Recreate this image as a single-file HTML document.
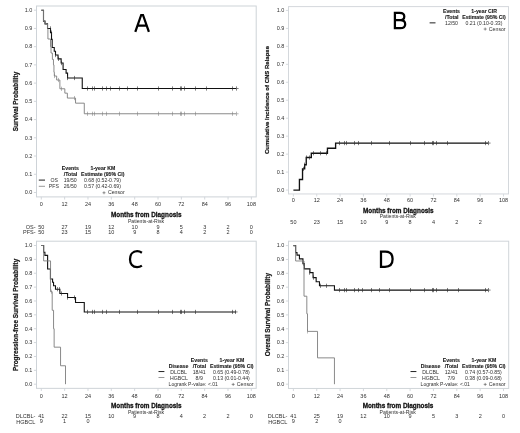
<!DOCTYPE html>
<html><head><meta charset="utf-8"><title>Figure</title>
<style>html,body{margin:0;padding:0;background:#fff}svg{display:block}text{font-family:"Liberation Sans", sans-serif}</style></head>
<body>
<svg width="520" height="433" viewBox="0 0 520 433" font-family='"Liberation Sans", sans-serif'>
<defs><filter id="tb" x="0" y="0" width="520" height="433" filterUnits="userSpaceOnUse"><feGaussianBlur stdDeviation="0.28"/></filter><clipPath id="cc"><rect x="0" y="418.6" width="520" height="14"/></clipPath></defs>
<rect width="520" height="433" fill="#fff"/>
<rect x="36.50" y="6.00" width="219.70" height="190.90" fill="none" stroke="#ced3d8" stroke-width="1"/>
<path d="M33.90 192.50H36.50 M33.90 174.27H36.50 M33.90 156.04H36.50 M33.90 137.81H36.50 M33.90 119.58H36.50 M33.90 101.35H36.50 M33.90 83.12H36.50 M33.90 64.89H36.50 M33.90 46.66H36.50 M33.90 28.43H36.50 M33.90 10.20H36.50 M41.30 196.90V199.50 M64.64 196.90V199.50 M87.99 196.90V199.50 M111.33 196.90V199.50 M134.68 196.90V199.50 M158.02 196.90V199.50 M181.37 196.90V199.50 M204.71 196.90V199.50 M228.06 196.90V199.50 M251.40 196.90V199.50" stroke="#ced3d8" stroke-width="0.9" fill="none"/>
<path d="M41.30 10.20 H43.50 V21.14 H45.00 V23.87 H47.53 V28.43 H50.50 V32.62 H51.51 V39.37 H52.19 V47.57 H54.26 V51.22 H55.50 V55.05 H58.03 V58.87 H61.14 V63.07 H63.09 V69.45 H66.10 V73.09 H67.56 V78.02 H82.25 V88.50 H236.03 V88.50" fill="none" stroke="#111" stroke-width="1.1" stroke-linejoin="miter"/>
<path d="M50.50 26.33V30.53 M51.50 30.52V34.72 M55.50 52.95V57.15 M58.50 56.77V60.97 M61.50 60.97V65.17 M67.50 75.92V80.12 M74.50 75.92V80.12 M87.50 86.40V90.60 M92.50 86.40V90.60 M94.50 86.40V90.60 M102.50 86.40V90.60 M106.50 86.40V90.60 M119.50 86.40V90.60 M137.50 86.40V90.60 M158.50 86.40V90.60 M172.50 86.40V90.60 M180.50 86.40V90.60 M181.50 86.40V90.60 M184.50 86.40V90.60 M195.50 86.40V90.60 M232.50 86.40V90.60 M236.50 86.40V90.60 M110.50 86.40V90.60 M127.50 86.40V90.60 M206.50 86.40V90.60 M236.50 88.50H238.60" fill="none" stroke="#2a2a2a" stroke-width="0.6"/>
<path d="M41.30 10.20 H43.50 V21.14 H45.00 V23.87 H47.53 V28.43 H47.91 V39.00 H50.50 V46.66 H51.03 V53.04 H52.39 V59.42 H53.46 V64.89 H53.94 V72.18 H54.33 V76.01 H56.67 V80.02 H59.88 V88.77 H64.84 V93.15 H67.37 V98.07 H75.54 V103.17 H84.29 V113.75 H236.03 V113.75" fill="none" stroke="#7d7d7d" stroke-width="0.9" stroke-linejoin="miter"/>
<path d="M54.50 73.91V78.11 M58.50 77.92V82.12 M61.50 86.67V90.87 M74.50 95.97V100.17 M87.50 111.65V115.85 M92.50 111.65V115.85 M94.50 111.65V115.85 M102.50 111.65V115.85 M106.50 111.65V115.85 M119.50 111.65V115.85 M137.50 111.65V115.85 M158.50 111.65V115.85 M172.50 111.65V115.85 M180.50 111.65V115.85 M181.50 111.65V115.85 M184.50 111.65V115.85 M195.50 111.65V115.85 M232.50 111.65V115.85 M236.50 111.65V115.85 M236.50 113.75H238.60" fill="none" stroke="#7d7d7d" stroke-width="0.55"/>
<path d="M135.3 31.9L141.2 15.0H143.0L148.9 31.9M137.4 25.6H146.8" fill="none" stroke="#000" stroke-width="2.25" stroke-linejoin="miter"/>
<path d="M38.8 180.1H45" stroke="#333" stroke-width="1.1"/>
<path d="M38.8 186.3H45" stroke="#7d7d7d" stroke-width="0.8"/>
<rect x="288.50" y="6.60" width="220.00" height="187.35" fill="none" stroke="#d4d8dc" stroke-width="1"/>
<path d="M285.90 190.05H288.50 M285.90 172.09H288.50 M285.90 154.13H288.50 M285.90 136.17H288.50 M285.90 118.21H288.50 M285.90 100.25H288.50 M285.90 82.29H288.50 M285.90 64.33H288.50 M285.90 46.37H288.50 M285.90 28.41H288.50 M285.90 10.45H288.50 M293.40 193.95V196.55 M316.74 193.95V196.55 M340.09 193.95V196.55 M363.43 193.95V196.55 M386.78 193.95V196.55 M410.12 193.95V196.55 M433.47 193.95V196.55 M456.81 193.95V196.55 M480.16 193.95V196.55 M503.50 193.95V196.55" stroke="#d4d8dc" stroke-width="0.9" fill="none"/>
<path d="M293.40 190.05 H299.43 V179.45 H302.54 V168.86 H304.68 V164.73 H306.24 V157.54 H311.30 V153.23 H327.44 V148.20 H335.61 V143.08 H488.13 V143.08" fill="none" stroke="#111" stroke-width="1.35" stroke-linejoin="miter"/>
<path d="M303.50 166.76V170.96 M304.50 162.63V166.83 M306.50 155.44V159.64 M309.50 155.44V159.64 M313.50 151.13V155.33 M320.50 151.13V155.33 M326.50 151.13V155.33 M339.50 140.98V145.18 M344.50 140.98V145.18 M346.50 140.98V145.18 M354.50 140.98V145.18 M358.50 140.98V145.18 M371.50 140.98V145.18 M389.50 140.98V145.18 M410.50 140.98V145.18 M424.50 140.98V145.18 M432.50 140.98V145.18 M433.50 140.98V145.18 M436.50 140.98V145.18 M447.50 140.98V145.18 M485.50 140.98V145.18 M488.50 140.98V145.18 M488.50 143.08H490.60" fill="none" stroke="#2a2a2a" stroke-width="0.6"/>
<path d="M394.9 12.9H399.6C402.6 12.9 404.3 14.2 404.3 16.5C404.3 18.8 402.6 20.2 399.6 20.2H394.9H400.2C403.4 20.2 405.2 21.8 405.2 24.2C405.2 26.7 403.4 28.2 400.2 28.2H394.9Z" fill="none" stroke="#000" stroke-width="2.25" stroke-linejoin="miter"/>
<path d="M429.6 22.85H435.5" stroke="#333" stroke-width="1.1"/>
<rect x="36.50" y="241.20" width="219.70" height="147.15" fill="none" stroke="#ced3d8" stroke-width="1"/>
<path d="M33.90 384.20H36.50 M33.90 370.33H36.50 M33.90 356.46H36.50 M33.90 342.59H36.50 M33.90 328.72H36.50 M33.90 314.85H36.50 M33.90 300.98H36.50 M33.90 287.11H36.50 M33.90 273.24H36.50 M33.90 259.37H36.50 M33.90 245.50H36.50 M41.30 388.35V390.95 M64.63 388.35V390.95 M87.97 388.35V390.95 M111.30 388.35V390.95 M134.63 388.35V390.95 M157.97 388.35V390.95 M181.30 388.35V390.95 M204.63 388.35V390.95 M227.97 388.35V390.95 M251.30 388.35V390.95" stroke="#ced3d8" stroke-width="0.9" fill="none"/>
<path d="M41.30 245.50 H43.63 V252.30 H44.90 V255.35 H47.62 V268.94 H50.44 V278.93 H52.58 V282.26 H53.55 V285.72 H55.49 V289.19 H59.87 V293.49 H67.55 V297.51 H75.52 V302.51 H84.27 V311.94 H235.94 V311.94" fill="none" stroke="#111" stroke-width="1.1" stroke-linejoin="miter"/>
<path d="M57.50 287.09V291.29 M59.50 287.09V291.29 M61.50 291.39V295.59 M67.50 295.41V299.61 M74.50 295.41V299.61 M87.50 309.84V314.04 M92.50 309.84V314.04 M94.50 309.84V314.04 M102.50 309.84V314.04 M106.50 309.84V314.04 M119.50 309.84V314.04 M137.50 309.84V314.04 M158.50 309.84V314.04 M172.50 309.84V314.04 M180.50 309.84V314.04 M181.50 309.84V314.04 M184.50 309.84V314.04 M195.50 309.84V314.04 M232.50 309.84V314.04 M235.50 309.84V314.04 M235.50 311.94H237.60" fill="none" stroke="#2a2a2a" stroke-width="0.6"/>
<path d="M41.30 245.50 H43.63 V260.90 H50.54 V291.69 H52.19 V310.27 H53.55 V328.72 H54.13 V347.17 H60.55 V365.75 H65.51 V384.20" fill="none" stroke="#7d7d7d" stroke-width="0.9" stroke-linejoin="miter"/>
<path d="M51.50 289.59V293.79" fill="none" stroke="#7d7d7d" stroke-width="0.5"/>
<path d="M141.9 252.7C140.4 251.7 138.8 251.2 137.2 251.2C132.7 251.2 130.0 254.6 130.0 259.3C130.0 264.0 132.6 267.1 137.1 267.1C138.9 267.1 140.5 266.6 141.9 265.6" fill="none" stroke="#000" stroke-width="2.25"/>
<path d="M158.50 371.55H164.40" stroke="#222" stroke-width="1.0"/>
<path d="M158.50 377.5H164.40" stroke="#7d7d7d" stroke-width="0.8"/>
<rect x="288.50" y="241.20" width="220.20" height="147.25" fill="none" stroke="#d0d5d9" stroke-width="1"/>
<path d="M285.90 384.20H288.50 M285.90 370.34H288.50 M285.90 356.48H288.50 M285.90 342.62H288.50 M285.90 328.76H288.50 M285.90 314.90H288.50 M285.90 301.04H288.50 M285.90 287.18H288.50 M285.90 273.32H288.50 M285.90 259.46H288.50 M285.90 245.60H288.50 M293.40 388.45V391.05 M316.74 388.45V391.05 M340.09 388.45V391.05 M363.43 388.45V391.05 M386.78 388.45V391.05 M410.12 388.45V391.05 M433.47 388.45V391.05 M456.81 388.45V391.05 M480.16 388.45V391.05 M503.50 388.45V391.05" stroke="#d0d5d9" stroke-width="0.9" fill="none"/>
<path d="M293.40 245.60 H295.64 V252.67 H297.00 V255.16 H299.43 V258.91 H302.93 V263.62 H304.29 V268.88 H309.94 V272.63 H313.05 V277.62 H316.16 V281.77 H319.47 V285.79 H334.45 V290.09 H488.13 V290.09" fill="none" stroke="#111" stroke-width="1.1" stroke-linejoin="miter"/>
<path d="M303.50 261.52V265.72 M309.50 270.53V274.73 M313.50 275.52V279.72 M320.50 283.69V287.89 M326.50 283.69V287.89 M339.50 287.99V292.19 M344.50 287.99V292.19 M346.50 287.99V292.19 M354.50 287.99V292.19 M358.50 287.99V292.19 M371.50 287.99V292.19 M389.50 287.99V292.19 M410.50 287.99V292.19 M424.50 287.99V292.19 M432.50 287.99V292.19 M433.50 287.99V292.19 M436.50 287.99V292.19 M447.50 287.99V292.19 M485.50 287.99V292.19 M488.50 287.99V292.19 M362.50 287.99V292.19 M379.50 287.99V292.19 M458.50 287.99V292.19 M488.50 290.09H490.60" fill="none" stroke="#2a2a2a" stroke-width="0.6"/>
<path d="M293.40 245.60 H295.64 V260.98 H304.00 V296.19 H306.82 V313.79 H307.50 V331.39 H317.52 V357.87 H334.45 V384.20" fill="none" stroke="#7d7d7d" stroke-width="0.9" stroke-linejoin="miter"/>
<path d="M303.50 258.88V263.08 M307.50 329.29V333.49" fill="none" stroke="#7d7d7d" stroke-width="0.5"/>
<path d="M381.0 251.6H385.2C390.3 251.6 392.6 254.7 392.6 259.1C392.6 263.8 390.2 266.9 385.0 266.9H381.0Z" fill="none" stroke="#000" stroke-width="2.25" stroke-linejoin="miter"/>
<path d="M410.50 371.55H416.40" stroke="#222" stroke-width="1.0"/>
<path d="M410.50 377.5H416.40" stroke="#7d7d7d" stroke-width="0.8"/>
<g filter="url(#tb)">
<text x="32.30" y="194.30" font-size="5.5" text-anchor="end" font-weight="normal" fill="#303030" >0.0</text>
<text x="32.30" y="176.07" font-size="5.5" text-anchor="end" font-weight="normal" fill="#303030" >0.1</text>
<text x="32.30" y="157.84" font-size="5.5" text-anchor="end" font-weight="normal" fill="#303030" >0.2</text>
<text x="32.30" y="139.61" font-size="5.5" text-anchor="end" font-weight="normal" fill="#303030" >0.3</text>
<text x="32.30" y="121.38" font-size="5.5" text-anchor="end" font-weight="normal" fill="#303030" >0.4</text>
<text x="32.30" y="103.15" font-size="5.5" text-anchor="end" font-weight="normal" fill="#303030" >0.5</text>
<text x="32.30" y="84.92" font-size="5.5" text-anchor="end" font-weight="normal" fill="#303030" >0.6</text>
<text x="32.30" y="66.69" font-size="5.5" text-anchor="end" font-weight="normal" fill="#303030" >0.7</text>
<text x="32.30" y="48.46" font-size="5.5" text-anchor="end" font-weight="normal" fill="#303030" >0.8</text>
<text x="32.30" y="30.23" font-size="5.5" text-anchor="end" font-weight="normal" fill="#303030" >0.9</text>
<text x="32.30" y="12.00" font-size="5.5" text-anchor="end" font-weight="normal" fill="#303030" >1.0</text>
<text x="41.30" y="206.20" font-size="5.5" text-anchor="middle" font-weight="normal" fill="#303030" >0</text>
<text x="64.64" y="206.20" font-size="5.5" text-anchor="middle" font-weight="normal" fill="#303030" >12</text>
<text x="87.99" y="206.20" font-size="5.5" text-anchor="middle" font-weight="normal" fill="#303030" >24</text>
<text x="111.33" y="206.20" font-size="5.5" text-anchor="middle" font-weight="normal" fill="#303030" >36</text>
<text x="134.68" y="206.20" font-size="5.5" text-anchor="middle" font-weight="normal" fill="#303030" >48</text>
<text x="158.02" y="206.20" font-size="5.5" text-anchor="middle" font-weight="normal" fill="#303030" >60</text>
<text x="181.37" y="206.20" font-size="5.5" text-anchor="middle" font-weight="normal" fill="#303030" >72</text>
<text x="204.71" y="206.20" font-size="5.5" text-anchor="middle" font-weight="normal" fill="#303030" >84</text>
<text x="228.06" y="206.20" font-size="5.5" text-anchor="middle" font-weight="normal" fill="#303030" >96</text>
<text x="251.40" y="206.20" font-size="5.5" text-anchor="middle" font-weight="normal" fill="#303030" >108</text>
<text transform="translate(18.20 101.50) rotate(-90)" font-size="6.36" text-anchor="middle" font-weight="bold" fill="#151515" stroke="#151515" stroke-width="0.2">Survival Probability</text>
<text x="146.30" y="216.70" font-size="6.36" text-anchor="middle" font-weight="bold" fill="#111" stroke="#111" stroke-width="0.28">Months from Diagnosis</text>
<text x="146.00" y="222.90" font-size="5.13" text-anchor="middle" font-weight="normal" fill="#303030" >Patients-at-Risk</text>
<text x="35.50" y="228.80" font-size="5.5" text-anchor="end" font-weight="normal" fill="#303030" >OS-</text>
<text x="41.30" y="228.80" font-size="5.5" text-anchor="middle" font-weight="normal" fill="#303030" >50</text>
<text x="64.64" y="228.80" font-size="5.5" text-anchor="middle" font-weight="normal" fill="#303030" >27</text>
<text x="87.99" y="228.80" font-size="5.5" text-anchor="middle" font-weight="normal" fill="#303030" >19</text>
<text x="111.33" y="228.80" font-size="5.5" text-anchor="middle" font-weight="normal" fill="#303030" >12</text>
<text x="134.68" y="228.80" font-size="5.5" text-anchor="middle" font-weight="normal" fill="#303030" >10</text>
<text x="158.02" y="228.80" font-size="5.5" text-anchor="middle" font-weight="normal" fill="#303030" >9</text>
<text x="181.37" y="228.80" font-size="5.5" text-anchor="middle" font-weight="normal" fill="#303030" >5</text>
<text x="204.71" y="228.80" font-size="5.5" text-anchor="middle" font-weight="normal" fill="#303030" >3</text>
<text x="228.06" y="228.80" font-size="5.5" text-anchor="middle" font-weight="normal" fill="#303030" >2</text>
<text x="251.40" y="228.80" font-size="5.5" text-anchor="middle" font-weight="normal" fill="#303030" >0</text>
<text x="35.50" y="234.10" font-size="5.5" text-anchor="end" font-weight="normal" fill="#303030" >PFS-</text>
<text x="41.30" y="234.10" font-size="5.5" text-anchor="middle" font-weight="normal" fill="#303030" >50</text>
<text x="64.64" y="234.10" font-size="5.5" text-anchor="middle" font-weight="normal" fill="#303030" >23</text>
<text x="87.99" y="234.10" font-size="5.5" text-anchor="middle" font-weight="normal" fill="#303030" >15</text>
<text x="111.33" y="234.10" font-size="5.5" text-anchor="middle" font-weight="normal" fill="#303030" >10</text>
<text x="134.68" y="234.10" font-size="5.5" text-anchor="middle" font-weight="normal" fill="#303030" >9</text>
<text x="158.02" y="234.10" font-size="5.5" text-anchor="middle" font-weight="normal" fill="#303030" >8</text>
<text x="181.37" y="234.10" font-size="5.5" text-anchor="middle" font-weight="normal" fill="#303030" >4</text>
<text x="204.71" y="234.10" font-size="5.5" text-anchor="middle" font-weight="normal" fill="#303030" >2</text>
<text x="228.06" y="234.10" font-size="5.5" text-anchor="middle" font-weight="normal" fill="#303030" >2</text>
<text x="251.40" y="234.10" font-size="5.5" text-anchor="middle" font-weight="normal" fill="#303030" >0</text>
<text x="70.30" y="169.90" font-size="5.2" text-anchor="middle" font-weight="bold" fill="#1c1c1c" stroke="#1c1c1c" stroke-width="0.12">Events</text>
<text x="70.60" y="176.00" font-size="5.2" text-anchor="middle" font-weight="bold" fill="#1c1c1c" stroke="#1c1c1c" stroke-width="0.12">/Total</text>
<text x="102.90" y="169.90" font-size="5.2" text-anchor="middle" font-weight="bold" fill="#1c1c1c" stroke="#1c1c1c" stroke-width="0.12">1-year KM</text>
<text x="102.70" y="176.00" font-size="5.2" text-anchor="middle" font-weight="bold" fill="#1c1c1c" stroke="#1c1c1c" stroke-width="0.12">Estimate (95% CI)</text>
<text x="57.90" y="182.00" font-size="5.2" text-anchor="end" font-weight="normal" fill="#303030" >OS</text>
<text x="58.90" y="188.20" font-size="5.2" text-anchor="end" font-weight="normal" fill="#303030" >PFS</text>
<text x="70.20" y="182.00" font-size="5.2" text-anchor="middle" font-weight="normal" fill="#303030" >19/50</text>
<text x="70.20" y="188.20" font-size="5.2" text-anchor="middle" font-weight="normal" fill="#303030" >26/50</text>
<text x="102.50" y="182.00" font-size="5.2" text-anchor="middle" font-weight="normal" fill="#303030" >0.68 (0.52-0.79)</text>
<text x="102.50" y="188.20" font-size="5.2" text-anchor="middle" font-weight="normal" fill="#303030" >0.57 (0.42-0.69)</text>
<text x="124.70" y="194.20" font-size="5.2" text-anchor="end" font-weight="normal" fill="#303030" >Censor</text>
<path d="M102.50 192.75H105.50M104.00 191.25V194.25" stroke="#505050" stroke-width="0.6" fill="none"/>
<text x="284.30" y="191.85" font-size="5.5" text-anchor="end" font-weight="normal" fill="#303030" >0.0</text>
<text x="284.30" y="173.89" font-size="5.5" text-anchor="end" font-weight="normal" fill="#303030" >0.1</text>
<text x="284.30" y="155.93" font-size="5.5" text-anchor="end" font-weight="normal" fill="#303030" >0.2</text>
<text x="284.30" y="137.97" font-size="5.5" text-anchor="end" font-weight="normal" fill="#303030" >0.3</text>
<text x="284.30" y="120.01" font-size="5.5" text-anchor="end" font-weight="normal" fill="#303030" >0.4</text>
<text x="284.30" y="102.05" font-size="5.5" text-anchor="end" font-weight="normal" fill="#303030" >0.5</text>
<text x="284.30" y="84.09" font-size="5.5" text-anchor="end" font-weight="normal" fill="#303030" >0.6</text>
<text x="284.30" y="66.13" font-size="5.5" text-anchor="end" font-weight="normal" fill="#303030" >0.7</text>
<text x="284.30" y="48.17" font-size="5.5" text-anchor="end" font-weight="normal" fill="#303030" >0.8</text>
<text x="284.30" y="30.21" font-size="5.5" text-anchor="end" font-weight="normal" fill="#303030" >0.9</text>
<text x="284.30" y="12.25" font-size="5.5" text-anchor="end" font-weight="normal" fill="#303030" >1.0</text>
<text x="293.40" y="202.40" font-size="5.5" text-anchor="middle" font-weight="normal" fill="#303030" >0</text>
<text x="316.74" y="202.40" font-size="5.5" text-anchor="middle" font-weight="normal" fill="#303030" >12</text>
<text x="340.09" y="202.40" font-size="5.5" text-anchor="middle" font-weight="normal" fill="#303030" >24</text>
<text x="363.43" y="202.40" font-size="5.5" text-anchor="middle" font-weight="normal" fill="#303030" >36</text>
<text x="386.78" y="202.40" font-size="5.5" text-anchor="middle" font-weight="normal" fill="#303030" >48</text>
<text x="410.12" y="202.40" font-size="5.5" text-anchor="middle" font-weight="normal" fill="#303030" >60</text>
<text x="433.47" y="202.40" font-size="5.5" text-anchor="middle" font-weight="normal" fill="#303030" >72</text>
<text x="456.81" y="202.40" font-size="5.5" text-anchor="middle" font-weight="normal" fill="#303030" >84</text>
<text x="480.16" y="202.40" font-size="5.5" text-anchor="middle" font-weight="normal" fill="#303030" >96</text>
<text x="503.50" y="202.40" font-size="5.5" text-anchor="middle" font-weight="normal" fill="#303030" >108</text>
<text transform="translate(268.50 100.00) rotate(-90)" font-size="6.0" text-anchor="middle" font-weight="bold" fill="#151515" stroke="#151515" stroke-width="0.2">Cumulative Incidence of CNS Relapse</text>
<text x="398.30" y="212.70" font-size="6.36" text-anchor="middle" font-weight="bold" fill="#111" stroke="#111" stroke-width="0.28">Months from Diagnosis</text>
<text x="397.80" y="218.20" font-size="5.13" text-anchor="middle" font-weight="normal" fill="#303030" >Patients-at-Risk</text>
<text x="293.40" y="223.70" font-size="5.5" text-anchor="middle" font-weight="normal" fill="#303030" >50</text>
<text x="316.74" y="223.70" font-size="5.5" text-anchor="middle" font-weight="normal" fill="#303030" >23</text>
<text x="340.09" y="223.70" font-size="5.5" text-anchor="middle" font-weight="normal" fill="#303030" >15</text>
<text x="363.43" y="223.70" font-size="5.5" text-anchor="middle" font-weight="normal" fill="#303030" >10</text>
<text x="386.78" y="223.70" font-size="5.5" text-anchor="middle" font-weight="normal" fill="#303030" >9</text>
<text x="410.12" y="223.70" font-size="5.5" text-anchor="middle" font-weight="normal" fill="#303030" >8</text>
<text x="433.47" y="223.70" font-size="5.5" text-anchor="middle" font-weight="normal" fill="#303030" >4</text>
<text x="456.81" y="223.70" font-size="5.5" text-anchor="middle" font-weight="normal" fill="#303030" >2</text>
<text x="480.16" y="223.70" font-size="5.5" text-anchor="middle" font-weight="normal" fill="#303030" >2</text>
<text x="451.50" y="12.90" font-size="5.2" text-anchor="middle" font-weight="bold" fill="#1c1c1c" stroke="#1c1c1c" stroke-width="0.12">Events</text>
<text x="451.80" y="18.80" font-size="5.2" text-anchor="middle" font-weight="bold" fill="#1c1c1c" stroke="#1c1c1c" stroke-width="0.12">/Total</text>
<text x="484.20" y="12.90" font-size="5.2" text-anchor="middle" font-weight="bold" fill="#1c1c1c" stroke="#1c1c1c" stroke-width="0.12">1-year CIR</text>
<text x="484.00" y="18.80" font-size="5.2" text-anchor="middle" font-weight="bold" fill="#1c1c1c" stroke="#1c1c1c" stroke-width="0.12">Estimate (95% CI)</text>
<text x="451.50" y="24.60" font-size="5.2" text-anchor="middle" font-weight="normal" fill="#303030" >12/50</text>
<text x="484.00" y="24.60" font-size="5.2" text-anchor="middle" font-weight="normal" fill="#303030" >0.21 (0.10-0.33)</text>
<text x="505.60" y="30.50" font-size="5.2" text-anchor="end" font-weight="normal" fill="#303030" >Censor</text>
<path d="M483.70 29.05H486.70M485.20 27.55V30.55" stroke="#505050" stroke-width="0.6" fill="none"/>
<text x="32.30" y="386.00" font-size="5.5" text-anchor="end" font-weight="normal" fill="#303030" >0.0</text>
<text x="32.30" y="372.13" font-size="5.5" text-anchor="end" font-weight="normal" fill="#303030" >0.1</text>
<text x="32.30" y="358.26" font-size="5.5" text-anchor="end" font-weight="normal" fill="#303030" >0.2</text>
<text x="32.30" y="344.39" font-size="5.5" text-anchor="end" font-weight="normal" fill="#303030" >0.3</text>
<text x="32.30" y="330.52" font-size="5.5" text-anchor="end" font-weight="normal" fill="#303030" >0.4</text>
<text x="32.30" y="316.65" font-size="5.5" text-anchor="end" font-weight="normal" fill="#303030" >0.5</text>
<text x="32.30" y="302.78" font-size="5.5" text-anchor="end" font-weight="normal" fill="#303030" >0.6</text>
<text x="32.30" y="288.91" font-size="5.5" text-anchor="end" font-weight="normal" fill="#303030" >0.7</text>
<text x="32.30" y="275.04" font-size="5.5" text-anchor="end" font-weight="normal" fill="#303030" >0.8</text>
<text x="32.30" y="261.17" font-size="5.5" text-anchor="end" font-weight="normal" fill="#303030" >0.9</text>
<text x="32.30" y="247.30" font-size="5.5" text-anchor="end" font-weight="normal" fill="#303030" >1.0</text>
<text x="41.30" y="397.55" font-size="5.5" text-anchor="middle" font-weight="normal" fill="#303030" >0</text>
<text x="64.63" y="397.55" font-size="5.5" text-anchor="middle" font-weight="normal" fill="#303030" >12</text>
<text x="87.97" y="397.55" font-size="5.5" text-anchor="middle" font-weight="normal" fill="#303030" >24</text>
<text x="111.30" y="397.55" font-size="5.5" text-anchor="middle" font-weight="normal" fill="#303030" >36</text>
<text x="134.63" y="397.55" font-size="5.5" text-anchor="middle" font-weight="normal" fill="#303030" >48</text>
<text x="157.97" y="397.55" font-size="5.5" text-anchor="middle" font-weight="normal" fill="#303030" >60</text>
<text x="181.30" y="397.55" font-size="5.5" text-anchor="middle" font-weight="normal" fill="#303030" >72</text>
<text x="204.63" y="397.55" font-size="5.5" text-anchor="middle" font-weight="normal" fill="#303030" >84</text>
<text x="227.97" y="397.55" font-size="5.5" text-anchor="middle" font-weight="normal" fill="#303030" >96</text>
<text x="251.30" y="397.55" font-size="5.5" text-anchor="middle" font-weight="normal" fill="#303030" >108</text>
<text transform="translate(18.20 314.90) rotate(-90)" font-size="6.38" text-anchor="middle" font-weight="bold" fill="#151515" stroke="#151515" stroke-width="0.2">Progression-free Survival Probability</text>
<text x="146.30" y="408.20" font-size="6.36" text-anchor="middle" font-weight="bold" fill="#111" stroke="#111" stroke-width="0.28">Months from Diagnosis</text>
<text x="146.00" y="413.50" font-size="5.13" text-anchor="middle" font-weight="normal" fill="#303030" >Patients-at-Risk</text>
<text x="35.40" y="418.30" font-size="5.5" text-anchor="end" font-weight="normal" fill="#303030" >DLCBL-</text>
<text x="41.30" y="418.30" font-size="5.5" text-anchor="middle" font-weight="normal" fill="#303030" >41</text>
<text x="64.63" y="418.30" font-size="5.5" text-anchor="middle" font-weight="normal" fill="#303030" >22</text>
<text x="87.97" y="418.30" font-size="5.5" text-anchor="middle" font-weight="normal" fill="#303030" >15</text>
<text x="111.30" y="418.30" font-size="5.5" text-anchor="middle" font-weight="normal" fill="#303030" >10</text>
<text x="134.63" y="418.30" font-size="5.5" text-anchor="middle" font-weight="normal" fill="#303030" >9</text>
<text x="157.97" y="418.30" font-size="5.5" text-anchor="middle" font-weight="normal" fill="#303030" >8</text>
<text x="181.30" y="418.30" font-size="5.5" text-anchor="middle" font-weight="normal" fill="#303030" >4</text>
<text x="204.63" y="418.30" font-size="5.5" text-anchor="middle" font-weight="normal" fill="#303030" >2</text>
<text x="227.97" y="418.30" font-size="5.5" text-anchor="middle" font-weight="normal" fill="#303030" >2</text>
<text x="251.30" y="418.30" font-size="5.5" text-anchor="middle" font-weight="normal" fill="#303030" >0</text>
<text x="16.30" y="424.00" font-size="5.5" text-anchor="start" font-weight="normal" fill="#303030" >HGBCL</text>
<text x="41.30" y="422.50" font-size="5.5" text-anchor="middle" font-weight="normal" fill="#303030" clip-path="url(#cc)">9</text>
<text x="64.63" y="422.50" font-size="5.5" text-anchor="middle" font-weight="normal" fill="#303030" clip-path="url(#cc)">1</text>
<text x="87.97" y="422.50" font-size="5.5" text-anchor="middle" font-weight="normal" fill="#303030" clip-path="url(#cc)">0</text>
<text x="199.30" y="361.60" font-size="5.2" text-anchor="middle" font-weight="bold" fill="#1c1c1c" stroke="#1c1c1c" stroke-width="0.12">Events</text>
<text x="178.60" y="367.80" font-size="5.2" text-anchor="middle" font-weight="bold" fill="#1c1c1c" stroke="#1c1c1c" stroke-width="0.12">Disease</text>
<text x="199.40" y="367.80" font-size="5.2" text-anchor="middle" font-weight="bold" fill="#1c1c1c" stroke="#1c1c1c" stroke-width="0.12">/Total</text>
<text x="232.00" y="361.60" font-size="5.2" text-anchor="middle" font-weight="bold" fill="#1c1c1c" stroke="#1c1c1c" stroke-width="0.12">1-year KM</text>
<text x="231.80" y="367.80" font-size="5.2" text-anchor="middle" font-weight="bold" fill="#1c1c1c" stroke="#1c1c1c" stroke-width="0.12">Estimate (95% CI)</text>
<text x="178.60" y="373.95" font-size="5.2" text-anchor="middle" font-weight="normal" fill="#303030" >DLCBL</text>
<text x="178.90" y="379.75" font-size="5.2" text-anchor="middle" font-weight="normal" fill="#303030" >HGBCL</text>
<text x="199.20" y="373.95" font-size="5.2" text-anchor="middle" font-weight="normal" fill="#303030" >18/41</text>
<text x="199.20" y="379.75" font-size="5.2" text-anchor="middle" font-weight="normal" fill="#303030" >8/9</text>
<text x="231.40" y="373.95" font-size="5.2" text-anchor="middle" font-weight="normal" fill="#303030" >0.65 (0.49-0.78)</text>
<text x="231.40" y="379.75" font-size="5.2" text-anchor="middle" font-weight="normal" fill="#303030" >0.13 (0.01-0.44)</text>
<text x="168.60" y="385.85" font-size="5.03" text-anchor="start" font-weight="normal" fill="#303030" >Logrank P-value: &lt;.01</text>
<text x="253.60" y="385.85" font-size="5.2" text-anchor="end" font-weight="normal" fill="#303030" >Censor</text>
<path d="M231.70 384.40H234.70M233.20 382.90V385.90" stroke="#505050" stroke-width="0.6" fill="none"/>
<text x="284.30" y="386.00" font-size="5.5" text-anchor="end" font-weight="normal" fill="#303030" >0.0</text>
<text x="284.30" y="372.14" font-size="5.5" text-anchor="end" font-weight="normal" fill="#303030" >0.1</text>
<text x="284.30" y="358.28" font-size="5.5" text-anchor="end" font-weight="normal" fill="#303030" >0.2</text>
<text x="284.30" y="344.42" font-size="5.5" text-anchor="end" font-weight="normal" fill="#303030" >0.3</text>
<text x="284.30" y="330.56" font-size="5.5" text-anchor="end" font-weight="normal" fill="#303030" >0.4</text>
<text x="284.30" y="316.70" font-size="5.5" text-anchor="end" font-weight="normal" fill="#303030" >0.5</text>
<text x="284.30" y="302.84" font-size="5.5" text-anchor="end" font-weight="normal" fill="#303030" >0.6</text>
<text x="284.30" y="288.98" font-size="5.5" text-anchor="end" font-weight="normal" fill="#303030" >0.7</text>
<text x="284.30" y="275.12" font-size="5.5" text-anchor="end" font-weight="normal" fill="#303030" >0.8</text>
<text x="284.30" y="261.26" font-size="5.5" text-anchor="end" font-weight="normal" fill="#303030" >0.9</text>
<text x="284.30" y="247.40" font-size="5.5" text-anchor="end" font-weight="normal" fill="#303030" >1.0</text>
<text x="293.40" y="397.50" font-size="5.5" text-anchor="middle" font-weight="normal" fill="#303030" >0</text>
<text x="316.74" y="397.50" font-size="5.5" text-anchor="middle" font-weight="normal" fill="#303030" >12</text>
<text x="340.09" y="397.50" font-size="5.5" text-anchor="middle" font-weight="normal" fill="#303030" >24</text>
<text x="363.43" y="397.50" font-size="5.5" text-anchor="middle" font-weight="normal" fill="#303030" >36</text>
<text x="386.78" y="397.50" font-size="5.5" text-anchor="middle" font-weight="normal" fill="#303030" >48</text>
<text x="410.12" y="397.50" font-size="5.5" text-anchor="middle" font-weight="normal" fill="#303030" >60</text>
<text x="433.47" y="397.50" font-size="5.5" text-anchor="middle" font-weight="normal" fill="#303030" >72</text>
<text x="456.81" y="397.50" font-size="5.5" text-anchor="middle" font-weight="normal" fill="#303030" >84</text>
<text x="480.16" y="397.50" font-size="5.5" text-anchor="middle" font-weight="normal" fill="#303030" >96</text>
<text x="503.50" y="397.50" font-size="5.5" text-anchor="middle" font-weight="normal" fill="#303030" >108</text>
<text transform="translate(270.30 314.60) rotate(-90)" font-size="6.42" text-anchor="middle" font-weight="bold" fill="#151515" stroke="#151515" stroke-width="0.2">Overall Survival Probability</text>
<text x="398.00" y="408.20" font-size="6.36" text-anchor="middle" font-weight="bold" fill="#111" stroke="#111" stroke-width="0.28">Months from Diagnosis</text>
<text x="397.70" y="413.50" font-size="5.13" text-anchor="middle" font-weight="normal" fill="#303030" >Patients-at-Risk</text>
<text x="287.40" y="418.30" font-size="5.5" text-anchor="end" font-weight="normal" fill="#303030" >DLCBL-</text>
<text x="293.40" y="418.30" font-size="5.5" text-anchor="middle" font-weight="normal" fill="#303030" >41</text>
<text x="316.74" y="418.30" font-size="5.5" text-anchor="middle" font-weight="normal" fill="#303030" >25</text>
<text x="340.09" y="418.30" font-size="5.5" text-anchor="middle" font-weight="normal" fill="#303030" >19</text>
<text x="363.43" y="418.30" font-size="5.5" text-anchor="middle" font-weight="normal" fill="#303030" >12</text>
<text x="386.78" y="418.30" font-size="5.5" text-anchor="middle" font-weight="normal" fill="#303030" >10</text>
<text x="410.12" y="418.30" font-size="5.5" text-anchor="middle" font-weight="normal" fill="#303030" >9</text>
<text x="433.47" y="418.30" font-size="5.5" text-anchor="middle" font-weight="normal" fill="#303030" >5</text>
<text x="456.81" y="418.30" font-size="5.5" text-anchor="middle" font-weight="normal" fill="#303030" >3</text>
<text x="480.16" y="418.30" font-size="5.5" text-anchor="middle" font-weight="normal" fill="#303030" >2</text>
<text x="503.50" y="418.30" font-size="5.5" text-anchor="middle" font-weight="normal" fill="#303030" >0</text>
<text x="268.30" y="424.00" font-size="5.5" text-anchor="start" font-weight="normal" fill="#303030" >HGBCL</text>
<text x="293.40" y="422.50" font-size="5.5" text-anchor="middle" font-weight="normal" fill="#303030" clip-path="url(#cc)">9</text>
<text x="316.74" y="422.50" font-size="5.5" text-anchor="middle" font-weight="normal" fill="#303030" clip-path="url(#cc)">2</text>
<text x="340.09" y="422.50" font-size="5.5" text-anchor="middle" font-weight="normal" fill="#303030" clip-path="url(#cc)">0</text>
<text x="451.30" y="361.60" font-size="5.2" text-anchor="middle" font-weight="bold" fill="#1c1c1c" stroke="#1c1c1c" stroke-width="0.12">Events</text>
<text x="430.60" y="367.80" font-size="5.2" text-anchor="middle" font-weight="bold" fill="#1c1c1c" stroke="#1c1c1c" stroke-width="0.12">Disease</text>
<text x="451.40" y="367.80" font-size="5.2" text-anchor="middle" font-weight="bold" fill="#1c1c1c" stroke="#1c1c1c" stroke-width="0.12">/Total</text>
<text x="484.00" y="361.60" font-size="5.2" text-anchor="middle" font-weight="bold" fill="#1c1c1c" stroke="#1c1c1c" stroke-width="0.12">1-year KM</text>
<text x="483.80" y="367.80" font-size="5.2" text-anchor="middle" font-weight="bold" fill="#1c1c1c" stroke="#1c1c1c" stroke-width="0.12">Estimate (95% CI)</text>
<text x="430.60" y="373.95" font-size="5.2" text-anchor="middle" font-weight="normal" fill="#303030" >DLCBL</text>
<text x="430.90" y="379.75" font-size="5.2" text-anchor="middle" font-weight="normal" fill="#303030" >HGBCL</text>
<text x="451.20" y="373.95" font-size="5.2" text-anchor="middle" font-weight="normal" fill="#303030" >12/41</text>
<text x="451.20" y="379.75" font-size="5.2" text-anchor="middle" font-weight="normal" fill="#303030" >7/9</text>
<text x="483.40" y="373.95" font-size="5.2" text-anchor="middle" font-weight="normal" fill="#303030" >0.74 (0.57-0.85)</text>
<text x="483.40" y="379.75" font-size="5.2" text-anchor="middle" font-weight="normal" fill="#303030" >0.38 (0.09-0.68)</text>
<text x="420.60" y="385.85" font-size="5.03" text-anchor="start" font-weight="normal" fill="#303030" >Logrank P-value: &lt;.01</text>
<text x="505.60" y="385.85" font-size="5.2" text-anchor="end" font-weight="normal" fill="#303030" >Censor</text>
<path d="M483.70 384.40H486.70M485.20 382.90V385.90" stroke="#505050" stroke-width="0.6" fill="none"/>
</g>
</svg>
</body></html>
